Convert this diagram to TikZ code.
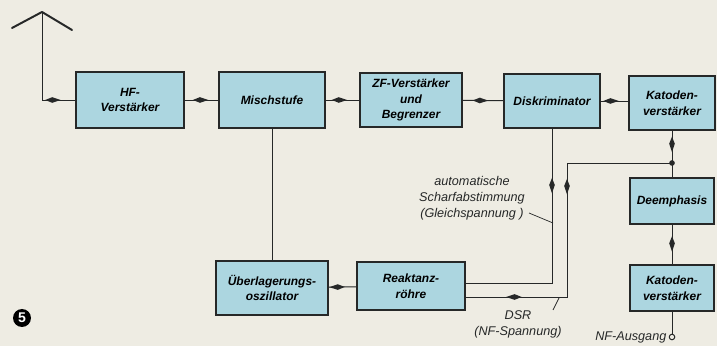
\documentclass[tikz,border=0pt]{standalone}
\usepackage{fontspec}
\setmainfont{Liberation Sans}
\usetikzlibrary{decorations.markings}

\definecolor{papier}{RGB}{238,236,227}
\definecolor{boxblau}{RGB}{172,214,224}
\definecolor{tusche}{RGB}{38,40,40}

\tikzset{
  block/.style={draw=tusche, line width=1.3pt, fill=boxblau, align=center,
    inner sep=1pt, font=\bfseries\itshape\fontsize{8.5}{11}\selectfont},
  leitung/.style={draw=tusche, line width=0.7pt},
  spindel/.style={postaction={decorate, decoration={markings,
    mark=at position #1 with {\fill[tusche] (-6pt,0) -- (-1pt,2pt) -- (5pt,0) -- (-1pt,-2pt) -- cycle;}}}},
  spindel/.default=0.5,
  notiz/.style={align=center, inner sep=0pt, text=tusche,
    font=\itshape\fontsize{9}{11.5}\selectfont}
}

\begin{document}
\begin{tikzpicture}[x=0.025cm, y=-0.025cm]
  % Hintergrund
  \fill[papier] (0,0) rectangle (717,346);
  \useasboundingbox (0,0) rectangle (717,346);

  % Bloecke
  \node[block, minimum width=2.68cm, minimum height=1.38cm] (hf) at (130,100) {HF-\\Verstärker};
  \node[block, minimum width=2.65cm, minimum height=1.40cm] (misch) at (272,100) {Mischstufe};
  \node[block, minimum width=2.55cm, minimum height=1.35cm] (zf) at (411,100) {ZF-Verstärker\\und\\Begrenzer};
  \node[block, minimum width=2.38cm, minimum height=1.33cm] (diskr) at (552,101) {Diskriminator};
  \node[block, minimum width=2.13cm, minimum height=1.33cm] (kat1) at (672,103) {Katoden-\\verstärker};
  \node[block, minimum width=2.10cm, minimum height=1.15cm] (deem) at (672,201) {Deemphasis};
  \node[block, minimum width=2.08cm, minimum height=1.13cm] (kat2) at (672,288) {Katoden-\\verstärker};
  \node[block, minimum width=2.78cm, minimum height=1.33cm] (ueber) at (272,288) {Überlagerungs-\\oszillator};
  \node[block, minimum width=2.68cm, minimum height=1.20cm] (reak) at (411,286) {Reaktanz-\\röhre};

  % Hilfspunkte
  \coordinate (ant) at (42,12);
  \coordinate (abzw) at (672,163); % Abzweig NF
  \coordinate (afc) at (552,283);
  \coordinate (nf) at (567,297);

  % Antenne
  \draw[leitung, line width=1.4pt, line cap=round, line join=round] (12,28) -- (ant) -- (72,30);
  \draw[leitung, spindel=0.82] (ant) |- (hf);

  % Hauptkette
  \draw[leitung, spindel] (hf) -- (misch);
  \draw[leitung, spindel=0.43] (misch) -- (zf);
  \draw[leitung, spindel=0.45] (zf) -- (diskr);
  \draw[leitung, spindel=0.4] (diskr) -- (diskr -| kat1.west);
  \draw[leitung, spindel=0.45] (kat1) -- (abzw);
  \draw[leitung] (abzw) -- (deem);
  \draw[leitung, spindel] (deem) -- (kat2);
  \fill[tusche] (abzw) circle (2pt);

  % Oszillator
  \draw[leitung] (misch) -- (ueber);
  \draw[leitung, spindel=0.72] (reak) -- (ueber);

  % Rueckfuehrungen
  \draw[leitung, spindel=0.24] (diskr.south) -- (afc) -- (reak.east |- afc);
  \draw[leitung, spindel=0.38, spindel=0.86] (abzw) -| (nf) -- (reak.east |- nf);

  % NF-Ausgang
  \node[circle, draw=tusche, line width=0.7pt, inner sep=1.4pt] (aus) at (672,337) {};
  \draw[leitung] (kat2) -- (aus);
  \node[notiz, anchor=east] (auslbl) at (aus.west) {NF-Ausgang\,};

  % Beschriftungen
  \node[notiz] (asa) at (472,198) {automatische\\Scharfabstimmung\\(Gleichspannung )};
  \draw[leitung, line width=0.5pt] (529,213) -- (553,223);
  \node[notiz] (dsr) at (518,324) {DSR\\(NF-Spannung)};
  \draw[leitung, line width=0.5pt] (553,310) -- (559,298);

  % Bildnummer
  \fill[black] (22,318) circle (9);
  \node[text=white, font=\bfseries\fontsize{10}{10}\selectfont, inner sep=0pt] (nr) at (22,318) {5};
\end{tikzpicture}
\end{document}
